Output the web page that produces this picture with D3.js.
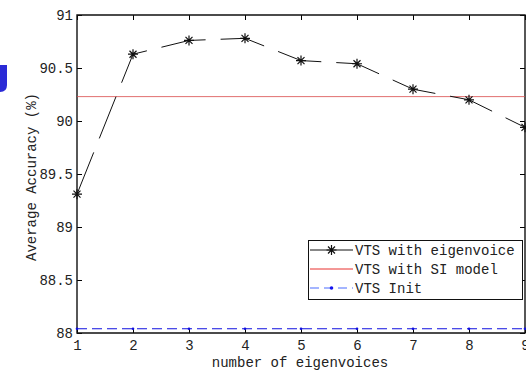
<!DOCTYPE html>
<html>
<head>
<meta charset="utf-8">
<script src="https://cdn.jsdelivr.net/npm/d3@7"></script>
<style>
  body { margin: 0; background: #fff; }
  svg text { font-family: "Liberation Mono", "DejaVu Sans Mono", monospace; fill: #222; }
</style>
</head>
<body>
<script>
// values
const numEigen = [1, 2, 3, 4, 5, 6, 7, 8, 9];
const vtsEigen = [89.31, 90.63, 90.76, 90.78, 90.57, 90.54, 90.30, 90.20, 89.94];
const vtsSI = [90.23, 90.23, 90.23, 90.23, 90.23, 90.23, 90.23, 90.23, 90.23];
const vtsInit = [88.04, 88.04, 88.04, 88.04, 88.04, 88.04, 88.04, 88.04, 88.04];
const yTicks = [88, 88.5, 89, 89.5, 90, 90.5, 91];
const legendNames = ["VTS with eigenvoice", "VTS with SI model", "VTS Init"];

const width = 526, height = 372;
const plotLeft = 77, plotRight = 525, plotTop = 15, plotBottom = 333;

const svg = d3.select("body").append("svg")
    .attr("width", width)
    .attr("height", height);

const x = d3.scaleLinear().domain([1, 9]).range([plotLeft, plotRight]);
const y = d3.scaleLinear().domain([88, 91]).range([plotBottom, plotTop]);

// stray blue glyph at the left edge of the screenshot
svg.append("path")
    .attr("d", "M0,65 H7 V85 Q7,92 0,92 Z")
    .attr("fill", "#2b2bd6");

const fmt = d => (d % 1 === 0 ? d3.format("d")(d) : d3.format(".1f")(d));

// axes, ticks pointing inward like matlab
svg.append("g")
    .attr("transform", "translate(" + plotLeft + ",0)")
    .call(d3.axisLeft(y).tickValues(yTicks).tickFormat(fmt).tickSizeInner(-5).tickSizeOuter(0).tickPadding(4));
svg.append("g")
    .attr("transform", "translate(" + plotRight + ",0)")
    .call(d3.axisRight(y).tickValues(yTicks).tickFormat("").tickSizeInner(-5).tickSizeOuter(0));
svg.append("g")
    .attr("transform", "translate(0," + plotBottom + ")")
    .call(d3.axisBottom(x).tickValues(numEigen).tickFormat(d3.format("d")).tickSizeInner(-5).tickSizeOuter(0).tickPadding(7));
svg.append("g")
    .attr("transform", "translate(0," + plotTop + ")")
    .call(d3.axisTop(x).tickValues(numEigen).tickFormat("").tickSizeInner(-5).tickSizeOuter(0));

svg.selectAll(".tick text").attr("font-size", 14);
svg.selectAll(".domain").remove();

// frame
svg.append("path")
    .attr("d", "M" + plotLeft + "," + plotTop + "H" + plotRight + "V" + plotBottom + "H" + plotLeft + "Z")
    .attr("fill", "none")
    .attr("stroke", "#111")
    .attr("stroke-width", 1.4);

const line = d3.line()
    .x((d, i) => x(numEigen[i]))
    .y(d => y(d));

// SI model, thin solid red
svg.append("path")
    .attr("d", line(vtsSI))
    .attr("fill", "none")
    .attr("stroke", "#d84a4a")
    .attr("stroke-width", 0.8);

// init, blue dashes with dots
svg.append("path")
    .attr("d", line(vtsInit))
    .attr("fill", "none")
    .attr("stroke", "#1010e0")
    .attr("stroke-width", 1.2)
    .attr("stroke-dasharray", "10,5");
svg.selectAll(".initDot")
    .data(vtsInit)
    .enter().append("circle")
    .attr("cx", (d, i) => x(numEigen[i]))
    .attr("cy", d => y(d))
    .attr("r", 1.3)
    .attr("fill", "#1010e0");

// eigenvoice, black dashed with stars
svg.append("path")
    .attr("d", line(vtsEigen))
    .attr("fill", "none")
    .attr("stroke", "#111")
    .attr("stroke-width", 1)
    .attr("stroke-dasharray", "45,15");

function star(cx, cy, s) {
    const d = s * 0.7;
    return "M" + (cx - s) + "," + cy + "H" + (cx + s) +
        "M" + cx + "," + (cy - s) + "V" + (cy + s) +
        "M" + (cx - d) + "," + (cy - d) + "L" + (cx + d) + "," + (cy + d) +
        "M" + (cx - d) + "," + (cy + d) + "L" + (cx + d) + "," + (cy - d);
}

svg.selectAll(".eigStar")
    .data(vtsEigen)
    .enter().append("path")
    .attr("d", (d, i) => star(x(numEigen[i]), y(d), 5))
    .attr("stroke", "#111")
    .attr("stroke-width", 1.2)
    .attr("fill", "none");

// legend
const lg = svg.append("g");
lg.append("rect")
    .attr("x", 308.5).attr("y", 240.5)
    .attr("width", 214).attr("height", 59)
    .attr("fill", "#fff")
    .attr("stroke", "#111")
    .attr("stroke-width", 1);

const rowY = [250, 269, 288];
const lx0 = 310, lx1 = 353;

lg.append("line").attr("x1", lx0).attr("x2", lx1).attr("y1", rowY[0]).attr("y2", rowY[0])
    .attr("stroke", "#111");
lg.append("path").attr("d", star((lx0 + lx1) / 2, rowY[0], 5)).attr("stroke", "#111").attr("stroke-width", 1.2).attr("fill", "none");
lg.append("line").attr("x1", lx0).attr("x2", lx1).attr("y1", rowY[1]).attr("y2", rowY[1])
    .attr("stroke", "#e8302f");
lg.append("line").attr("x1", lx0).attr("x2", lx1).attr("y1", rowY[2]).attr("y2", rowY[2])
    .attr("stroke", "#4a6cff").attr("stroke-width", 1.2).attr("stroke-dasharray", "9,5");
lg.append("circle").attr("cx", (lx0 + lx1) / 2).attr("cy", rowY[2]).attr("r", 1.8).attr("fill", "#1515f0");

lg.selectAll(".lgText")
    .data(legendNames)
    .enter().append("text")
    .attr("x", 355)
    .attr("y", (d, i) => rowY[i])
    .attr("dy", "0.35em")
    .attr("font-size", 14)
    .text(d => d);

// axis titles
svg.append("text")
    .attr("x", (plotLeft + plotRight) / 2 - 1)
    .attr("y", 367)
    .attr("text-anchor", "middle")
    .attr("font-size", 14)
    .text("number of eigenvoices");

svg.append("text")
    .attr("transform", "translate(36," + 177 + ") rotate(-90)")
    .attr("text-anchor", "middle")
    .attr("font-size", 14)
    .text("Average Accuracy (%)");
</script>
</body>
</html>
